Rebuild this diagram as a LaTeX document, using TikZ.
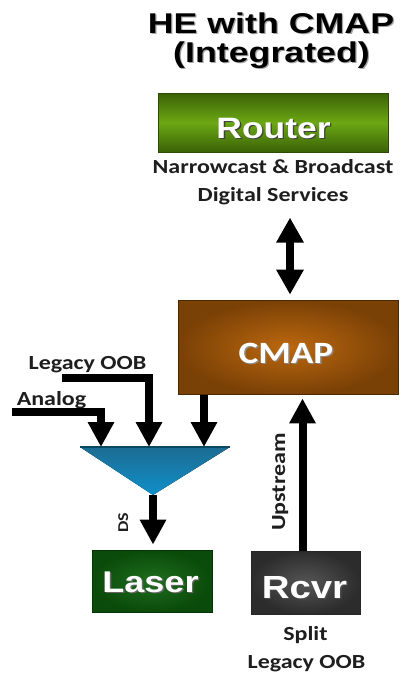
\documentclass[tikz,border=0pt]{standalone}
\usepackage{fontspec}
\usetikzlibrary{arrows.meta}
\newfontfamily\titlefont[FakeStretch=1.25]{Liberation Sans}
\newfontfamily\boxfont[FakeStretch=1.2]{Liberation Sans}
\newfontfamily\calfont[FakeStretch=1.2]{Carlito}
\definecolor{routerdark}{HTML}{3A6106}
\definecolor{routerlight}{HTML}{6CA814}
\definecolor{routerline}{HTML}{2E4A06}
\definecolor{cmapin}{HTML}{BC680E}
\definecolor{cmapout}{HTML}{7A4106}
\definecolor{cmapline}{HTML}{4A2804}
\definecolor{laserin}{HTML}{1E6E1E}
\definecolor{laserout}{HTML}{0A4A0A}
\definecolor{rcvrin}{HTML}{555555}
\definecolor{rcvrout}{HTML}{2C2C2C}
\definecolor{tritop}{HTML}{1C6C92}
\definecolor{tribot}{HTML}{1090CA}
\definecolor{triline}{HTML}{0C4862}
\definecolor{labelgray}{HTML}{1E1E1E}
\newcommand\shadowed[2]{\leavevmode\rlap{\kern1.3pt\raisebox{-1.3pt}{\textcolor{#1}{#2}}}#2}
\tikzset{
  boxshape/.style={draw, line width=0.8pt, inner sep=0pt},
  boxtext/.style={anchor=base, inner sep=0pt, text=white},
  lbl/.style={anchor=base, inner sep=0pt, text=labelgray, font=\calfont\bfseries\fontsize{20}{24}\selectfont},
  arr/.style={line width=8pt, line join=miter, -{Triangle[width=25pt,length=25pt]}},
  darr/.style={line width=8pt, {Triangle[width=26pt,length=25pt]}-{Triangle[width=26pt,length=25pt]}}
}
\begin{document}
\begin{tikzpicture}[x=1pt, y=-1pt]
\useasboundingbox (0,0) rectangle (401,675);
\fill[white] (0,0) rectangle (401,675);

% title
\node[anchor=base, inner sep=0pt, font=\titlefont\bfseries\fontsize{28.6}{30}\selectfont] (title1) at (271,33) {\shadowed{black!35}{HE with CMAP}};
\node[anchor=base, inner sep=0pt, font=\titlefont\bfseries\fontsize{28.6}{30}\selectfont] (title2) at (271.5,62) {\shadowed{black!35}{(Integrated)}};

% router
\node[boxshape, draw=routerline, top color=routerdark, bottom color=routerdark, middle color=routerlight, minimum width=230pt, minimum height=59pt] (router) at (273,122.5) {};
\node[boxtext, font=\boxfont\bfseries\fontsize{29.5}{30}\selectfont] (routertxt) at (273.5,138) {\shadowed{black!75}{Router}};

\node[lbl] (svc1) at (273,173) {Narrowcast \& Broadcast};
\node[lbl] (svc2) at (273,201) {Digital Services};

% CMAP
\node[boxshape, draw=cmapline, inner color=cmapin, outer color=cmapout, minimum width=220pt, minimum height=94pt] (cmap) at (288.5,347.5) {};
\node[boxtext, font=\calfont\bfseries\fontsize{31}{32}\selectfont] (cmaptxt) at (286,363) {\shadowed{black!45}{CMAP}};

% combiner triangle
\coordinate (trileft) at (80,447);
\coordinate (triright) at (230,447);
\coordinate (triout) at (153,495);
\coordinate (tria) at (101,447);
\coordinate (trib) at (149,447);
\coordinate (tric) at (204,447);
\fill[top color=tritop, bottom color=tribot] (trileft) -- (triright) -- (triout) -- cycle;
\draw[triline, line width=1.2pt] (trileft) -- (triright);

% inputs
\node[lbl] (legtxt) at (87.5,369) {Legacy OOB};
\node[lbl] (antxt) at (51.5,405) {Analog};
\coordinate (legstart) at (62,377.5);
\coordinate (anstart) at (12,411.5);
\draw[arr] (legstart) -| (trib);
\draw[arr] (anstart) -| (tria);
\draw[arr] (tric |- cmap.south) -- (tric);

% laser
\node[boxshape, draw=laserout!70!black, inner color=laserin, outer color=laserout, minimum width=120pt, minimum height=62pt] (laser) at (152,581) {};
\node[boxtext, font=\boxfont\bfseries\fontsize{30}{30}\selectfont] (lasertxt) at (150.5,592) {\shadowed{black!60}{Laser}};
\draw[arr, shorten >=5pt] (triout) -- (triout |- laser.north);
\node[lbl, rotate=90, font=\calfont\bfseries\fontsize{15}{18}\selectfont] (dstxt) at (128,523) {DS};

% receiver
\node[boxshape, draw=black!85, inner color=rcvrin, outer color=rcvrout, minimum width=109pt, minimum height=63pt] (rcvr) at (305.5,582.5) {};
\node[boxtext, font=\boxfont\bfseries\fontsize{32}{32}\selectfont] (rcvrtxt) at (304.5,598) {\shadowed{black!70}{Rcvr}};
\draw[arr, shorten >=3.5pt] ([xshift=-3pt]rcvr.north) -- ([xshift=-3pt]rcvr.north |- cmap.south);
\node[lbl, rotate=90] (uptxt) at (285,482) {Upstream};
\node[lbl] (split1) at (305.5,640) {Split};
\node[lbl] (split2) at (306.5,668) {Legacy OOB};

% router <-> cmap
\draw[darr, shorten <=13pt, shorten >=5.5pt] ([xshift=1.5pt]svc2.south -| cmap.north) -- ([xshift=1.5pt]cmap.north);
\end{tikzpicture}
\end{document}
